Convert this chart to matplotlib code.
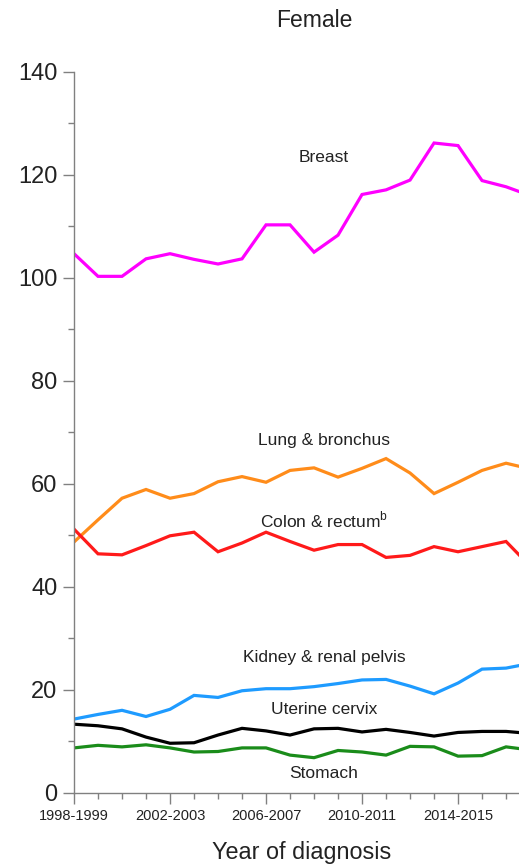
import matplotlib
matplotlib.use("Agg")
import matplotlib.pyplot as plt
from matplotlib.ticker import MultipleLocator, FixedLocator

plt.rcParams['font.family'] = ['Liberation Sans', 'DejaVu Sans']

periods = ["1998-1999", "1999-2000", "2000-2001", "2001-2002", "2002-2003", "2003-2004",
           "2004-2005", "2005-2006", "2006-2007", "2007-2008", "2008-2009", "2009-2010",
           "2010-2011", "2011-2012", "2012-2013", "2013-2014", "2014-2015", "2015-2016",
           "2016-2017", "2017-2018"]
tick_labels = ["1998-1999", "2002-2003", "2006-2007", "2010-2011", "2014-2015"]

breast = [104.7, 100.3, 100.3, 103.7, 104.7, 103.6, 102.7, 103.7, 110.3, 110.3,
          105.0, 108.3, 116.2, 117.1, 119.0, 126.2, 125.7, 118.9, 117.7, 116.0]
lung = [48.7, 53.0, 57.2, 58.9, 57.2, 58.1, 60.4, 61.4, 60.3, 62.6,
        63.1, 61.3, 63.0, 64.9, 62.1, 58.1, 60.3, 62.6, 64.0, 62.9]
colon = [51.2, 46.4, 46.2, 48.0, 49.9, 50.6, 46.8, 48.5, 50.6, 48.8,
         47.1, 48.2, 48.2, 45.7, 46.1, 47.8, 46.8, 47.8, 48.8, 44.0]
kidney = [14.3, 15.2, 16.0, 14.8, 16.2, 18.9, 18.5, 19.8, 20.2, 20.2,
          20.6, 21.2, 21.9, 22.0, 20.7, 19.2, 21.3, 24.0, 24.2, 25.1]
cervix = [13.3, 13.0, 12.4, 10.8, 9.6, 9.7, 11.2, 12.5, 12.0, 11.2,
          12.4, 12.5, 11.8, 12.3, 11.7, 11.0, 11.7, 11.9, 11.9, 11.5]
stomach = [8.7, 9.2, 8.9, 9.3, 8.7, 7.9, 8.0, 8.7, 8.7, 7.3,
           6.8, 8.2, 7.9, 7.3, 9.0, 8.9, 7.1, 7.2, 8.9, 8.3]

series = [
    (breast, "#FF00FF", "Breast", 123.4),
    (lung, "#FF8C1A", "Lung & bronchus", 68.5),
    (colon, "#FF1A1A", "Colon & rectum$^{\\mathregular{b}}$", 53.0),
    (kidney, "#1E9BFF", "Kidney & renal pelvis", 26.2),
    (cervix, "#000000", "Uterine cervix", 16.2),
    (stomach, "#1A8C1A", "Stomach", 3.8),
]

fig = plt.figure(figsize=(5.19, 8.65), dpi=100)
ax = fig.add_axes([0.1426, 0.0836, 0.8574, 0.8332])

x = list(range(len(periods)))
for vals, col, lab, ly in series:
    ax.plot(x, vals, color=col, lw=2.3, solid_joinstyle='miter', clip_on=True)
    ax.text(10.42, ly, lab, ha='center', va='center', fontsize=12.5, color='#222222')

ax.set_xlim(0, 18.54)
ax.set_ylim(0, 140)
ax.yaxis.set_major_locator(MultipleLocator(20))
ax.yaxis.set_minor_locator(MultipleLocator(10))
ax.xaxis.set_major_locator(FixedLocator([periods.index(t) for t in tick_labels]))
ax.set_xticklabels(tick_labels)
ax.xaxis.set_minor_locator(MultipleLocator(1))

for s in ['top', 'right']:
    ax.spines[s].set_visible(False)
for s in ['left', 'bottom']:
    ax.spines[s].set_color('#808080')
    ax.spines[s].set_linewidth(1.0)

ax.tick_params(axis='y', which='major', length=8, width=1, color='#808080',
               labelsize=17, labelcolor='#222222', pad=4)
ax.tick_params(axis='y', which='minor', length=4.5, width=1, color='#808080')
ax.tick_params(axis='x', which='major', length=8, width=1, color='#808080',
               labelsize=10.5, labelcolor='#222222', pad=4)
ax.tick_params(axis='x', which='minor', length=4.5, width=1, color='#808080')

fig.text(314 / 519, 1 - 20.7 / 865, "Female", ha='center', va='center',
         fontsize=16.5, color='#222222')
fig.text(302 / 519, 1 - 853 / 865, "Year of diagnosis", ha='center', va='center',
         fontsize=16.8, color='#222222')

fig.savefig("out.png", dpi=100)
